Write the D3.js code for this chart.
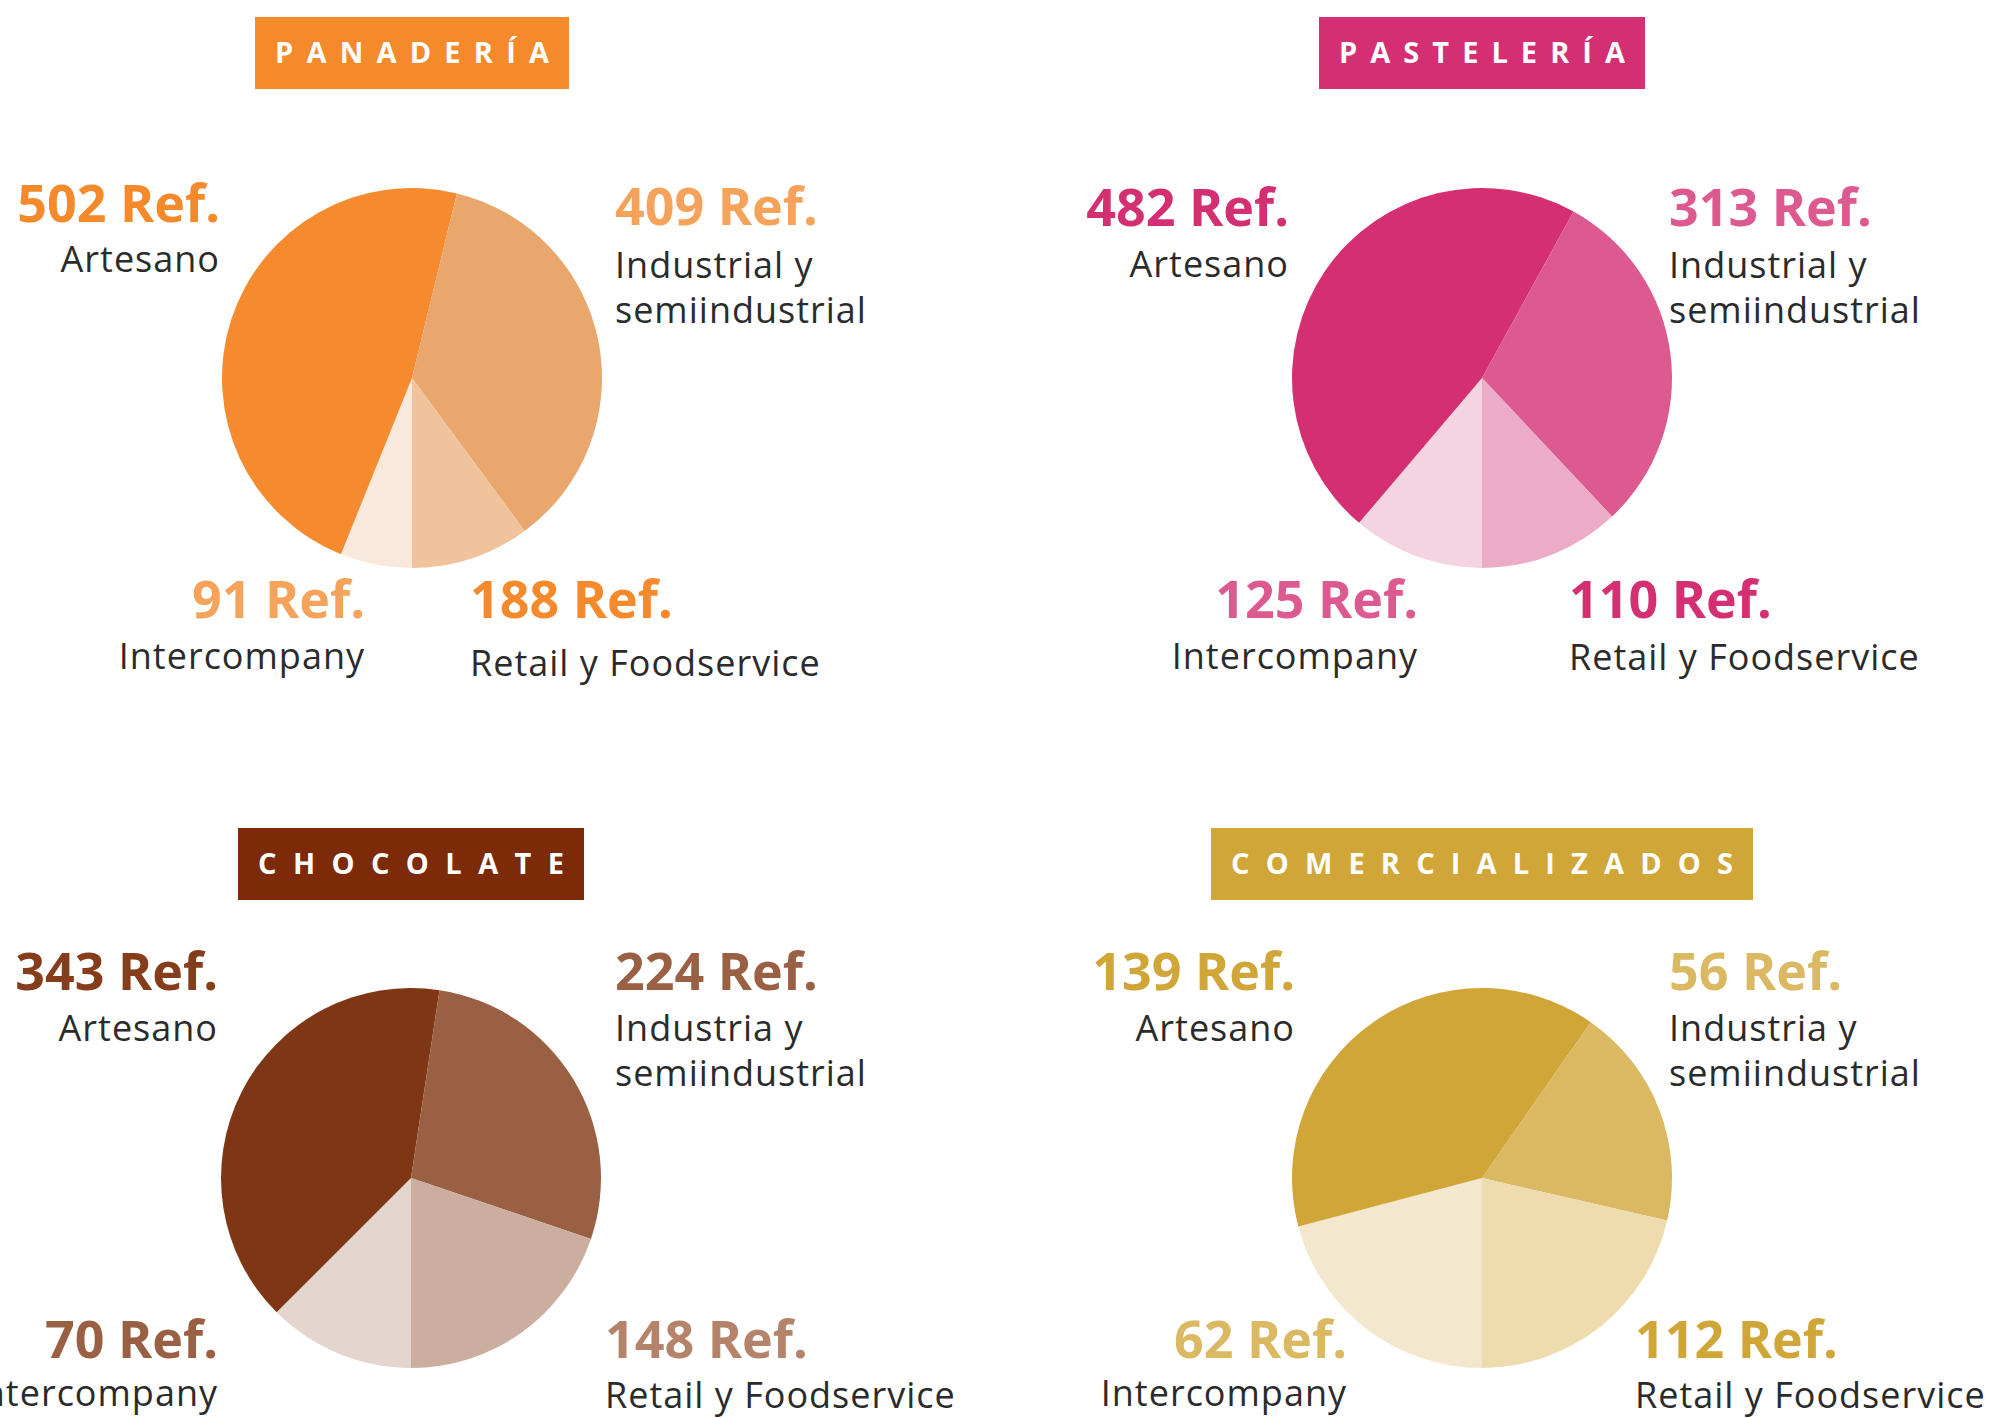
<!DOCTYPE html>
<html>
<head>
<meta charset="utf-8">
<script src="https://cdn.jsdelivr.net/npm/d3@7"></script>
<style>
  html, body { margin: 0; padding: 0; background: #fff; }
  svg { display: block; }
</style>
</head>
<body>
<div id="chart"></div>
<script>
// segment order follows the pie clockwise from 6 o'clock
const segments = ["Intercompany", "Artesano", "Industrial", "Retail"];
const titles = ["PANADERÍA", "PASTELERÍA", "CHOCOLATE", "COMERCIALIZADOS"];

// "Ref." counts shown in the labels
const panaderiaRefs = [91, 502, 409, 188];
const pasteleriaRefs = [125, 482, 313, 110];
const chocolateRefs = [70, 343, 224, 148];
const comercializadosRefs = [62, 139, 56, 112];

// slice sizes as drawn in the picture (percent of the circle)
const panaderiaShares = [6.1, 47.7, 36.1, 10.1];
const pasteleriaShares = [11.2, 46.8, 30.0, 12.0];
const chocolateShares = [12.5, 39.9, 27.8, 19.8];
const comercializadosShares = [20.9, 38.8, 18.9, 21.4];

const nameLabels = [
    ["Intercompany", "Artesano", "Industrial y|semiindustrial", "Retail y Foodservice"],
    ["Intercompany", "Artesano", "Industrial y|semiindustrial", "Retail y Foodservice"],
    ["Intercompany", "Artesano", "Industria y|semiindustrial", "Retail y Foodservice"],
    ["Intercompany", "Artesano", "Industria y|semiindustrial", "Retail y Foodservice"]
];

const titleColors = ["#F58A2D", "#D32F72", "#7C2A08", "#D0A638"];
const sliceColors = [
    ["#F9E9DD", "#F58B2E", "#E9A66D", "#F0C39D"],
    ["#F4D4E1", "#D32F72", "#DD5A91", "#ECABC7"],
    ["#E4D6CF", "#7F3615", "#9A6043", "#CBAEA0"],
    ["#F3E7CD", "#D0A638", "#DBB963", "#EEDBAE"]
];
const refColors = [
    ["#F5A25B", "#F58A2D", "#F5A25B", "#F58A2D"],
    ["#DD5A91", "#D32F72", "#DD5A91", "#D32F72"],
    ["#9A6043", "#853D1B", "#9A6043", "#B5836A"],
    ["#DBB963", "#D0A638", "#DBB963", "#D0A638"]
];

const allRefs = [panaderiaRefs, pasteleriaRefs, chocolateRefs, comercializadosRefs];
const allShares = [panaderiaShares, pasteleriaShares, chocolateShares, comercializadosShares];

// layout
const W = 1994, H = 1418;
const radius = 190;
const centers = [[412, 378], [1482, 378], [411, 1178], [1482, 1178]];
const boxTop = [17, 17, 828, 828];
const titleWidth = [274, 286, 306, 502];
// label anchor offsets from pie centre: [dx, dyRef, dyName, anchor]
const labelPos = [
    [[-47, 240, 291, "end"], [-192, -156, -106, "end"], [203, -153, -100, "start"], [58, 240, 298, "start"]],
    [[-64, 240, 291, "end"], [-193, -152, -101, "end"], [187, -152, -100, "start"], [87, 240, 292, "start"]],
    [[-193, 180, 228, "end"], [-193, -188, -137, "end"], [204, -188, -137, "start"], [194, 180, 230, "start"]],
    [[-135, 180, 228, "end"], [-187, -188, -137, "end"], [187, -188, -137, "start"], [153, 180, 230, "start"]]
];

const svg = d3.select("#chart").append("svg")
    .attr("width", W)
    .attr("height", H);

const pie = d3.pie()
    .sort(null)
    .startAngle(Math.PI)
    .endAngle(3 * Math.PI)
    .value(d => d.share);

const arc = d3.arc()
    .innerRadius(0)
    .outerRadius(radius);

titles.forEach((title, i) => {
    const data = segments.map((s, j) => ({
        key: s,
        ref: allRefs[i][j],
        share: allShares[i][j],
        name: nameLabels[i][j]
    }));

    const g = svg.append("g")
        .attr("transform", `translate(${centers[i][0]}, ${centers[i][1]})`);

    g.selectAll("path.slice")
        .data(pie(data))
        .enter().append("path")
        .attr("class", "slice")
        .attr("d", arc)
        .attr("fill", (d, j) => sliceColors[i][j]);

    // title box
    const tg = svg.append("g")
        .attr("transform", `translate(${centers[i][0]}, ${boxTop[i]})`);
    const bw = titleWidth[i] + 40;
    tg.append("rect")
        .attr("x", -bw / 2)
        .attr("y", 0)
        .attr("width", bw)
        .attr("height", 72)
        .attr("fill", titleColors[i]);
    tg.append("text")
        .attr("x", 0)
        .attr("y", 46)
        .attr("text-anchor", "middle")
        .attr("fill", "#fff")
        .attr("textLength", titleWidth[i])
        .attr("lengthAdjust", "spacing")
        .style("font-family", "'Open Sans', sans-serif")
        .style("font-weight", 700)
        .style("font-size", "29px")
        .text(title);

    // labels
    data.forEach((d, j) => {
        const p = labelPos[i][j];
        g.append("text")
            .attr("x", p[0])
            .attr("y", p[1])
            .attr("text-anchor", p[3])
            .attr("fill", refColors[i][j])
            .style("font-family", "'Open Sans', sans-serif")
            .style("font-weight", 700)
            .style("font-size", "52px")
            .text(`${d.ref} Ref.`);

        const lines = d.name.split("|");
        const t = g.append("text")
            .attr("x", p[0])
            .attr("y", p[2])
            .attr("text-anchor", p[3])
            .attr("fill", "#2b2b2b")
            .style("font-family", "'Open Sans', sans-serif")
            .style("font-weight", 400)
            .style("font-size", "36px")
            .style("letter-spacing", "1px");
        lines.forEach((line, k) => {
            t.append("tspan")
                .attr("x", p[0])
                .attr("dy", k === 0 ? 0 : 45)
                .text(line);
        });
    });
});
</script>
</body>
</html>
